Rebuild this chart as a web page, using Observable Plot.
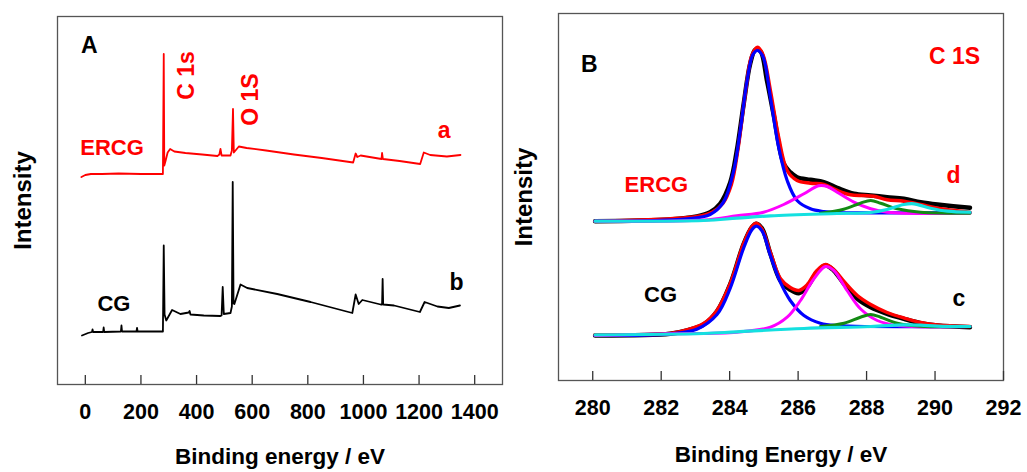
<!DOCTYPE html>
<html><head><meta charset="utf-8">
<script src="https://cdn.jsdelivr.net/npm/d3@7"></script>
<script src="https://cdn.jsdelivr.net/npm/@observablehq/plot@0.6"></script>
<style>
body{margin:0;background:#fff;}
#fig{position:relative;width:1027px;height:472px;overflow:hidden;background:#fff;}
#fig svg{position:absolute;top:0;overflow:visible;}
</style></head><body><div id="fig"></div>
<script>
// ---------- Panel A: survey spectra (binding energy eV, intensity a.u.) ----------
const surveyTicks = [0, 200, 400, 600, 800, 1000, 1200, 1400];
const surveyERCG = [[-14,207.5],[0,209.5],[20,210.5],[60,210.5],[120,211],[200,210.5],[279,210.5],[282,330.5],[284,219],[288,223],[296,232],[305,235.5],[320,233],[360,231.5],[420,230],[475,228.5],[482,230],[486,235.5],[490,229],[522,229],[527,234],[531,275.5],[534,232],[540,234],[552,238],[580,236.5],[650,234],[750,230],[850,226.5],[963,222],[972,231],[978,227.5],[990,229],[1065,225.5],[1067,231.5],[1070,225.5],[1130,223.5],[1204,220.5],[1217,232],[1240,229.5],[1300,228],[1349,229.5]];
const surveyCG = [[-12,49],[10,51.5],[24,52.5],[26,55],[28,52.5],[64,52.5],[66,57],[68,52.5],[128,53],[130,59],[132,53],[184,53],[186,56.5],[188,53],[279,53],[282,139],[285,70],[291,64],[312,74.5],[342,70.5],[372,72],[375,73.5],[378,70],[426,69],[486,68.5],[490,69],[494,97.5],[498,70.5],[522,71.5],[527,78],[530,202.5],[533,81],[536,80.5],[558,100],[582,96.5],[690,90.5],[810,82.5],[960,71.5],[972,90],[983,80.5],[996,84.5],[1062,80],[1067,80],[1069,105.5],[1071,80],[1110,79],[1203,72.5],[1220,82.5],[1266,78],[1307,76.5],[1347,79]];

// ---------- Panel B: C 1s high-resolution spectra ----------
const c1sTicks = [280, 282, 284, 286, 288, 290, 292];
// ERCG (d)
const ercgRaw = [[280.07,159.3],[282.26,161],[283.04,164],[283.43,168.3],[283.72,176.7],[284.02,198.3],[284.21,230],[284.41,276.7],[284.6,316.7],[284.75,330.7],[284.9,329.3],[285.09,300],[285.29,265],[285.58,216.7],[285.77,208.3],[285.97,203.3],[286.36,200.7],[286.75,198.3],[287.14,192.7],[287.63,186.7],[288.12,185],[288.6,183.3],[289.09,181.7],[289.58,178.3],[290.07,176],[291.02,172.7]];
const ercgFit = [[280.07,159.3],[283.04,164],[283.5,168.5],[283.8,177],[284.05,196],[284.25,233],[284.45,285],[284.65,325],[284.82,333.3],[284.98,325],[285.19,290],[285.43,243.3],[285.68,210],[285.97,200],[286.36,197.3],[286.75,196],[287.14,190],[287.53,185.7],[287.92,185],[288.21,184.3],[288.6,180.7],[289.09,179.3],[289.58,176],[290.07,172.3],[291.02,168.3]];
const ercgC1 = [[280.07,159.3],[282.75,161.7],[283.43,166],[283.82,178.3],[284.12,210],[284.31,250],[284.51,300],[284.68,326],[284.82,330],[284.98,323.3],[285.19,283.3],[285.43,233.3],[285.68,200],[285.97,180],[286.36,171.7],[286.75,169],[287.14,168],[291.02,168]];
const ercgC2 = [[280.07,159.3],[283.24,160.5],[284.21,164.7],[284.99,168.3],[285.58,176],[286.17,186.7],[286.6,194.7],[286.85,194],[287.14,188.3],[287.63,178.3],[288.12,171.7],[288.6,168.3],[291.02,167.3]];
const ercgC3 = [[286.65,167.3],[287.33,171.3],[287.82,177.3],[288.12,180],[288.41,177.3],[288.9,171.7],[289.58,168.3],[291.02,167.3]];
const ercgBase = [[280.07,159.3],[283.24,160],[284.21,162.3],[285.19,164.7],[287.14,167],[288.12,168],[288.6,171],[289.09,176],[289.38,176.7],[289.87,172.3],[290.36,169.3],[291.02,168.3]];
// CG (c)
const cgRaw = [[280.07,45],[282.26,46.7],[282.75,50],[283.24,56],[283.63,69.3],[284.02,96.7],[284.41,136.7],[284.65,153.3],[284.78,156.7],[284.95,151.7],[285.19,126.7],[285.48,100],[285.77,90.7],[286.02,87.3],[286.26,93.3],[286.55,108.3],[286.8,115],[287.04,110],[287.34,96.7],[287.73,81.7],[288.12,73.3],[288.6,66.7],[289.09,61.7],[289.58,57.3],[290.07,55],[291.02,53.3]];
const cgFit = [[280.07,45.5],[282.26,47],[282.75,50.5],[283.24,57],[283.63,70],[284.02,97],[284.41,137],[284.65,154],[284.78,157.3],[284.95,151],[285.19,128],[285.48,102],[285.77,93],[286.02,90],[286.26,95.5],[286.55,110],[286.8,116],[287.04,111],[287.34,99],[287.73,85],[288.12,76],[288.6,68],[289.09,62.5],[289.58,58],[290.07,55.5],[291.02,54]];
const cgC1 = [[280.07,45],[282.26,46.7],[283.04,51.3],[283.63,66],[284.02,92.7],[284.41,132.7],[284.65,150.7],[284.78,154.3],[284.95,149.3],[285.19,125],[285.48,98.3],[285.77,80],[286.17,65],[286.65,57.3],[287.14,55],[291.02,54]];
const cgC2 = [[280.07,45],[282.26,46.7],[284.21,48.3],[285.19,53.3],[285.68,63.3],[286.07,80],[286.46,101.7],[286.8,114],[287.04,110],[287.43,90],[287.82,71.7],[288.31,60],[288.9,55],[291.02,54]];
const cgC3 = [[286.65,54],[287.34,57.3],[287.82,63.3],[288.12,66],[288.41,63.3],[288.9,57.3],[289.58,54.3],[291.02,54]];
const cgBase = [[280.07,45.7],[283.24,47],[284.21,48.7],[286.17,52],[288.12,54],[289.09,55.7],[289.58,55.3],[290.07,54.3],[291.02,54]];

// ---------- drawing ----------
const FONT = '"Liberation Sans", Arial, Helvetica, sans-serif';
const fig = document.getElementById("fig");
const X = d => d[0], Y = d => d[1];

function label(txt, x, y, fill, size, opts = {}) {
  return Plot.text([txt], {x: () => x, y: () => y, text: d => d, fill, fontSize: size, fontWeight: "bold", ...opts});
}
function commonAxes(ticks, title, titleDy) {
  return [
    Plot.frame({stroke: "#555", strokeWidth: 1.3}),
    Plot.axisX({ticks, tickSize: -9, stroke: "#333", strokeWidth: 1.3, label: null, tickFormat: () => ""}),
    Plot.text(ticks, {x: d => d, text: d => String(d), frameAnchor: "bottom", lineAnchor: "top", dy: 19, fontSize: 21.5, fontWeight: "bold", fill: "#000"}),
    Plot.text([title], {frameAnchor: "bottom", textAnchor: "middle", lineAnchor: "bottom", dy: titleDy, fontSize: 22.5, fontWeight: "bold", fill: "#000"}),
    Plot.text(["Intensity"], {frameAnchor: "left", textAnchor: "middle", lineAnchor: "middle", rotate: -90, dx: -34, fontSize: 24, fontWeight: "bold", fill: "#000"})
  ];
}
const baseStyle = {fontFamily: FONT, fontWeight: "bold", fontSize: "22px", background: "transparent", overflow: "visible"};

// Panel A
const plotA = Plot.plot({
  width: 505, height: 472,
  marginLeft: 57, marginRight: 3, marginTop: 16, marginBottom: 88,
  style: baseStyle,
  x: {domain: [-100, 1500]},
  y: {domain: [0, 368], axis: null},
  marks: [
    ...commonAxes(surveyTicks, "Binding energy / eV", 79),
    Plot.line(surveyERCG, {x: X, y: Y, stroke: "#ff0000", strokeWidth: 1.8}),
    Plot.line(surveyCG, {x: X, y: Y, stroke: "#000", strokeWidth: 1.8}),
    label("A", 14, 339, "#000", 23),
    label("ERCG", 96, 237, "#ff0000", 22),
    label("C 1s", 366, 309, "#ff0000", 23, {rotate: -90}),
    label("O 1S", 596, 285, "#ff0000", 23, {rotate: -90}),
    label("a", 1290, 254, "#ff0000", 23),
    label("b", 1335, 101.5, "#000", 23),
    label("CG", 103, 81, "#000", 22)
  ]
});
plotA.style.left = "0px";
fig.appendChild(plotA);

// Panel B
const curve = "catmull-rom";
const plotB = Plot.plot({
  width: 522, height: 472,
  marginLeft: 53, marginRight: 24, marginTop: 13, marginBottom: 92,
  style: baseStyle,
  x: {domain: [279, 292]},
  y: {domain: [0, 367], axis: null},
  marks: [
    ...commonAxes(c1sTicks, "Binding Energy / eV", 81),
    Plot.line(ercgRaw, {x: X, y: Y, stroke: "#000", strokeWidth: 4.5, curve}),
    Plot.line(cgRaw, {x: X, y: Y, stroke: "#000", strokeWidth: 4.5, curve}),
    Plot.line(ercgFit, {x: X, y: Y, stroke: "#ff0000", strokeWidth: 3.5, curve}),
    Plot.line(cgFit, {x: X, y: Y, stroke: "#ff0000", strokeWidth: 3.5, curve}),
    Plot.line(ercgC1, {x: X, y: Y, stroke: "#0000ff", strokeWidth: 3.2, curve}),
    Plot.line(cgC1, {x: X, y: Y, stroke: "#0000ff", strokeWidth: 3.2, curve}),
    Plot.line(ercgC2, {x: X, y: Y, stroke: "#ff00ff", strokeWidth: 3, curve}),
    Plot.line(cgC2, {x: X, y: Y, stroke: "#ff00ff", strokeWidth: 3, curve}),
    Plot.line(ercgC3, {x: X, y: Y, stroke: "#138a13", strokeWidth: 3, curve}),
    Plot.line(cgC3, {x: X, y: Y, stroke: "#138a13", strokeWidth: 3, curve}),
    Plot.line(ercgBase, {x: X, y: Y, stroke: "#14e0e0", strokeWidth: 3.2, curve}),
    Plot.line(cgBase, {x: X, y: Y, stroke: "#14e0e0", strokeWidth: 3.2, curve}),
    label("B", 279.9, 316, "#000", 23),
    label("C 1S", 290.57, 323.7, "#ff0000", 23),
    label("ERCG", 281.86, 195.5, "#ff0000", 22),
    label("d", 290.54, 205, "#ff0000", 23),
    label("CG", 281.98, 85.7, "#000", 22),
    label("c", 290.7, 81.7, "#000", 23)
  ]
});
plotB.style.left = "505px";
fig.appendChild(plotB);
</script>
</body></html>
